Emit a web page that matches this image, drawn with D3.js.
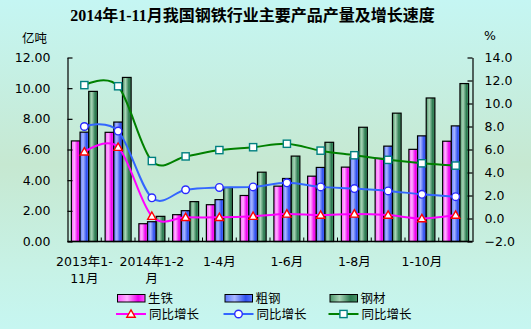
<!DOCTYPE html>
<html><head><meta charset="utf-8">
<script src="https://cdn.jsdelivr.net/npm/d3@7"></script>
<style>html,body{margin:0;padding:0;}svg{display:block;}</style>
</head><body>
<svg id="c" width="531" height="329"></svg>
<script>
const categories = ["2013年1-11月","2013年","2014年1-2月","1-3月","1-4月","1-5月","1-6月","1-7月","1-8月","1-9月","1-10月","1-11月"];
const tickLabels = [["2013年1-","11月"],[],["2014年1-2","月"],[],["1-4月"],[],["1-6月"],[],["1-8月"],[],["1-10月"],[]];
const pigIron       = [6.56, 7.12, 1.16, 1.75, 2.40, 3.00, 3.61, 4.26, 4.85, 5.42, 6.01, 6.54];
const crudeSteel    = [7.13, 7.79, 1.29, 2.01, 2.73, 3.52, 4.11, 4.83, 5.50, 6.22, 6.89, 7.54];
const steelProducts = [9.79, 10.70, 1.64, 2.60, 3.52, 4.52, 5.57, 6.47, 7.45, 8.37, 9.36, 10.30];
const pigGrowth      = [5.8, 6.2, 0.2, 0.1, 0.1, 0.2, 0.4, 0.3, 0.4, 0.3, 0.0, 0.3];
const steelGrowth    = [8.0, 7.6, 1.8, 2.5, 2.7, 2.75, 3.1, 2.75, 2.6, 2.4, 2.1, 1.9];
const productsGrowth = [11.6, 11.5, 5.0, 5.4, 5.95, 6.2, 6.5, 5.9, 5.5, 5.1, 4.8, 4.6];
const leftTicks  = [0, 2, 4, 6, 8, 10, 12];
const rightTicks = [-2, 0, 2, 4, 6, 8, 10, 12, 14];
const barNames  = ["生铁", "粗钢", "钢材"];
const lineNames = ["同比增长", "同比增长", "同比增长"];
const title = "2014年1-11月我国钢铁行业主要产品产量及增长速度";

const svg = d3.select("#c");
const defs = svg.append("defs");
const W = 531, H = 329;
const L = 67.5, R = 472.5, T = 57.5, B = 241.5;
const NUM = "'DejaVu Sans','Noto Sans CJK SC',sans-serif";

// background
const bg = defs.append("linearGradient").attr("id","bg").attr("x1",0).attr("y1",0).attr("x2",0).attr("y2",1);
[[0,"#c5f6f3"],[0.5,"#c6e8d1"],[0.82,"#c7f2e6"],[1,"#c6f6f1"]].forEach(([o,c])=>bg.append("stop").attr("offset",o).attr("stop-color",c));
svg.append("rect").attr("width",W).attr("height",H).attr("fill","url(#bg)");

// bar gradients
const grads = [
  ["gPink",  "#ff55ff","#ffb0ff","#ee00ee"],
  ["gBlue",  "#5a78ff","#a8b6ff","#2f50ee"],
  ["gGreen", "#4a9468","#a8d4b6","#2b7a50"]
];
grads.forEach(([id,m,l,d])=>{
  const g = defs.append("linearGradient").attr("id",id).attr("x1",0).attr("x2",1).attr("y1",0).attr("y2",0);
  [[0,m],[0.35,l],[0.75,d],[1,m]].forEach(([o,c])=>g.append("stop").attr("offset",o).attr("stop-color",c));
});

const x = d3.scaleBand().domain(d3.range(categories.length)).range([L, R]).paddingInner(0.23).paddingOuter(0.115);
const xs = d3.scaleBand().domain([0,1,2]).range([0, x.bandwidth()]);
const y = d3.scaleLinear().domain([0, 12]).range([B, T]);
const y2 = d3.scaleLinear().domain([-2, 14]).range([B, T]);
const cx = i => x(i) + x.bandwidth()/2;

// title
svg.append("text").attr("x", 252.5).attr("y", 20.5).attr("text-anchor","middle")
  .attr("font-family","'Liberation Serif','Noto Sans CJK SC',serif").attr("font-weight","bold").attr("font-size",16)
  .attr("fill","#000").text(title);
// units
svg.append("text").attr("x", 34.5).attr("y", 43).attr("text-anchor","middle").attr("font-family",NUM).attr("font-size",12.5).text("亿吨");
svg.append("text").attr("x", 490).attr("y", 40).attr("text-anchor","middle").attr("font-family",NUM).attr("font-size",12.5).text("%");

// bars
const barSeries = [pigIron, crudeSteel, steelProducts];
const barFills = ["url(#gPink)","url(#gBlue)","url(#gGreen)"];
barSeries.forEach((arr, s)=>{
  svg.append("g").selectAll("rect").data(arr).join("rect")
    .attr("x",(d,i)=>x(i)+xs(s)).attr("width",xs.bandwidth())
    .attr("y",d=>y(d)).attr("height",d=>y(0)-y(d))
    .attr("fill",barFills[s]).attr("stroke","#000").attr("stroke-width",1.2);
});

// axes
const gl = svg.append("g").attr("transform",`translate(${L},0)`)
  .call(d3.axisLeft(y).tickValues(leftTicks).tickSizeInner(-5).tickSizeOuter(0).tickPadding(17).tickFormat(d3.format(".2f")));
const gr = svg.append("g").attr("transform",`translate(${R},0)`)
  .call(d3.axisRight(y2).tickValues(rightTicks).tickSizeInner(-5).tickSizeOuter(0).tickPadding(12).tickFormat(d3.format(".1f")));
[gl, gr].forEach(g=>{
  g.selectAll("path,line").attr("stroke","#000").attr("stroke-width",1.2);
  g.selectAll("text").attr("font-family",NUM).attr("font-size",12.5).attr("fill","#000");
});
gr.selectAll("text").attr("text-anchor","start");

// x axis
svg.append("line").attr("x1",L).attr("x2",R).attr("y1",B).attr("y2",B).attr("stroke","#000").attr("stroke-width",1.5);
const step = x.step();
svg.append("g").selectAll("line").data(d3.range(1, categories.length)).join("line")
  .attr("x1",i=>x(i)-step*x.paddingInner()/2).attr("x2",i=>x(i)-step*x.paddingInner()/2)
  .attr("y1",B).attr("y2",B-4).attr("stroke","#000").attr("stroke-width",1);
const xl = svg.append("g");
tickLabels.forEach((lines,i)=>{
  if(!lines.length) return;
  const t = xl.append("text").attr("x",cx(i)).attr("text-anchor","middle")
    .attr("font-family",NUM).attr("font-size",12.5).attr("fill","#000");
  lines.forEach((ln,k)=>t.append("tspan").attr("x",cx(i)).attr("y",265.5+k*17.5).text(ln));
});

// lines
const line = arr => d3.line().x((d,i)=>cx(i)).y(d=>y2(d)).curve(d3.curveCardinal.tension(0))(arr);
const lineSeries = [
  {data: productsGrowth, color:"#008000", mk:"square", mstroke:"#008080"},
  {data: steelGrowth, color:"#3366ff", mk:"circle", mstroke:"#2a2aff"},
  {data: pigGrowth, color:"#ff00ff", mk:"triangle", mstroke:"#ff0000"}
];
function marker(g, type, stroke){
  if(type==="square") return g.append("rect").attr("x",-3.6).attr("y",-3.6).attr("width",7.2).attr("height",7.2).attr("fill","#fff").attr("stroke",stroke).attr("stroke-width",1.4);
  if(type==="circle") return g.append("circle").attr("r",3.8).attr("fill","#fff").attr("stroke",stroke).attr("stroke-width",1.4);
  return g.append("path").attr("d","M0,-4.2L4.2,3.2L-4.2,3.2Z").attr("fill","#fff").attr("stroke",stroke).attr("stroke-width",1.4);
}
lineSeries.forEach(s=>{
  svg.append("path").attr("d",line(s.data)).attr("fill","none").attr("stroke",s.color).attr("stroke-width",2);
});
lineSeries.forEach(s=>{
  s.data.forEach((d,i)=>{
    const g = svg.append("g").attr("transform",`translate(${cx(i)},${y2(d)})`);
    marker(g, s.mk, s.mstroke);
  });
});

// legend
const legX = [117.5, 225, 330];
const legItems = [
  {fill:"url(#gPink)", color:"#ff00ff", mk:"triangle", mstroke:"#ff0000"},
  {fill:"url(#gBlue)", color:"#3366ff", mk:"circle", mstroke:"#2a2aff"},
  {fill:"url(#gGreen)", color:"#008000", mk:"square", mstroke:"#008080"}
];
legItems.forEach((it,k)=>{
  const lx = legX[k];
  svg.append("rect").attr("x",lx).attr("y",294.5).attr("width",27.5).attr("height",7.5)
    .attr("fill",it.fill).attr("stroke","#000").attr("stroke-width",1);
  svg.append("text").attr("x",lx+30.5).attr("y",303).attr("font-family",NUM).attr("font-size",12.5).text(barNames[k]);
  svg.append("line").attr("x1",lx-1.5).attr("x2",lx+28.5).attr("y1",314).attr("y2",314).attr("stroke",it.color).attr("stroke-width",2);
  const g = svg.append("g").attr("transform",`translate(${lx+13.5},314)`);
  marker(g, it.mk, it.mstroke);
  svg.append("text").attr("x",lx+31.5).attr("y",319).attr("font-family",NUM).attr("font-size",12.5).text(lineNames[k]);
});
</script>
</body></html>
